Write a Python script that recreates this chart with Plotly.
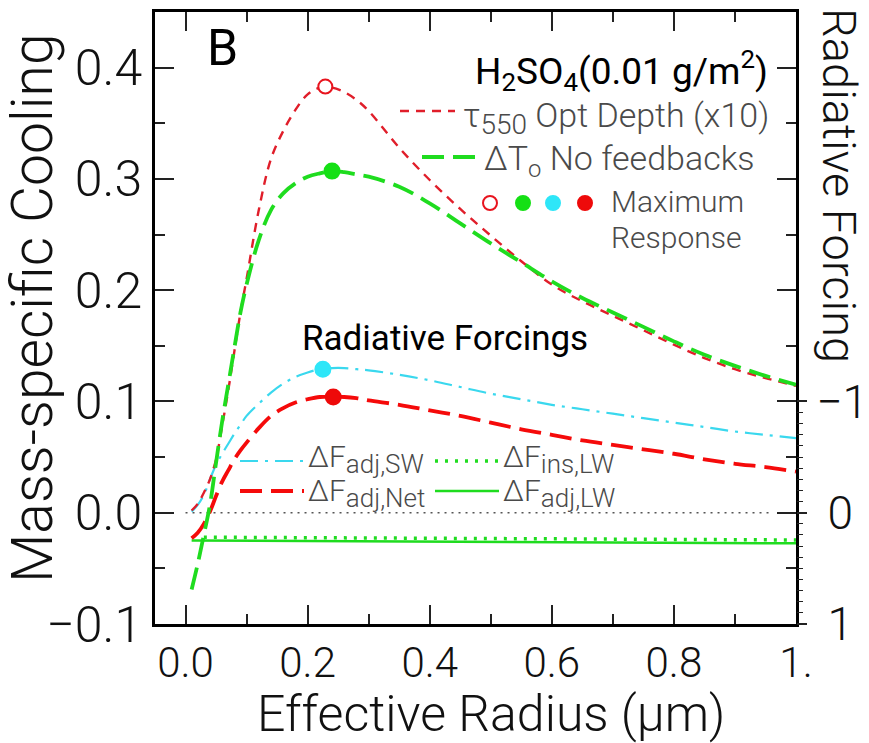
import plotly.graph_objects as go

# ---------------- data ----------------
radius = [0.01, 0.02, 0.03, 0.04, 0.05, 0.06, 0.07, 0.08, 0.09, 0.10, 0.12, 0.14,
          0.16, 0.18, 0.20, 0.22, 0.24, 0.26, 0.28, 0.30, 0.35, 0.40, 0.45, 0.50,
          0.55, 0.60, 0.65, 0.70, 0.75, 0.80, 0.85, 0.90, 0.95, 1.00]
tau550_x10 = [0.002, 0.008, 0.018, 0.030, 0.048, 0.078, 0.110, 0.145, 0.180, 0.210, 0.272, 0.318,
              0.343, 0.362, 0.376, 0.382, 0.382, 0.378, 0.371, 0.361, 0.328, 0.299, 0.273, 0.249,
              0.226, 0.205, 0.190, 0.177, 0.164, 0.151, 0.139, 0.129, 0.121, 0.114]
dT_nofeed = [-0.069, -0.046, -0.020, 0.007, 0.045, 0.082, 0.115, 0.148, 0.180, 0.205, 0.245, 0.272,
             0.287, 0.296, 0.302, 0.305, 0.307, 0.306, 0.304, 0.302, 0.293, 0.278, 0.260, 0.242,
             0.225, 0.208, 0.193, 0.180, 0.167, 0.154, 0.142, 0.132, 0.123, 0.115]
dF_adj_sw = [0.001, 0.007, 0.016, 0.030, 0.043, 0.053, 0.062, 0.071, 0.079, 0.087, 0.098, 0.108,
             0.116, 0.122, 0.126, 0.129, 0.130, 0.130, 0.129, 0.128, 0.124, 0.119, 0.113, 0.107,
             0.102, 0.097, 0.093, 0.089, 0.085, 0.081, 0.077, 0.073, 0.070, 0.067]
dF_adj_net = [-0.023, -0.018, -0.010, 0.001, 0.015, 0.028, 0.038, 0.048, 0.056, 0.063, 0.076, 0.087,
              0.094, 0.099, 0.102, 0.104, 0.104, 0.104, 0.103, 0.101, 0.097, 0.092, 0.087, 0.081,
              0.075, 0.070, 0.065, 0.061, 0.057, 0.053, 0.048, 0.044, 0.041, 0.037]
lw_adj_r = [0.01, 0.20, 0.40, 0.60, 0.80, 1.00]
dF_adj_lw = [-0.0250, -0.0255, -0.0260, -0.0265, -0.0270, -0.0275]
lw_ins_r = [0.03, 0.20, 0.40, 0.60, 0.80, 1.00]
dF_ins_lw = [-0.0220, -0.0225, -0.0230, -0.0235, -0.0240, -0.0245]
zero_r = [0.0, 0.96]
zero_v = [0.0, 0.0]
peak_r = [0.229, 0.240, 0.225, 0.242]
peak_v = [0.383, 0.307, 0.129, 0.104]

x_tickvals = [0.0, 0.2, 0.4, 0.6, 0.8, 1.0]
x_ticktext = ["0.0", "0.2", "0.4", "0.6", "0.8", "1."]
y_tickvals = [-0.1, 0.0, 0.1, 0.2, 0.3, 0.4]
y_ticktext = ["\u22120.1", "0.0", "0.1", "0.2", "0.3", "0.4"]
rf_tickvals = [-1, 0, 1]
rf_ticktext = ["\u22121", "\u00a00", "\u00a01"]
rf_minor = [-0.9, -0.8, -0.7, -0.6, -0.5, -0.4, -0.3, -0.2, -0.1,
            0.1, 0.2, 0.3, 0.4, 0.5, 0.6, 0.7, 0.8, 0.9]

# ---------------- styling ----------------
W, H = 869, 743
L, R, T, B = 155, 796, 12, 624
FONT = "Roboto"
RED_T = "#e01e2a"
RED = "#f50a0a"
GREEN = "#1fdc1f"
CYAN = "#3ad8ee"
GRAY = "#4a4a4a"
MK_RED_O = "#e8141e"
MK_GREEN = "#15e015"
MK_CYAN = "#2ee6f8"
MK_RED = "#ee0a0a"


def P(px, py):
    return (px - L) / (R - L), (B - py) / (B - T)


fig = go.Figure()

fig.add_trace(go.Scatter(x=zero_r, y=zero_v, mode="lines",
                         line=dict(color="#555555", width=1.3, dash="2px,5px")))
fig.add_trace(go.Scatter(x=lw_adj_r, y=dF_adj_lw, mode="lines",
                         line=dict(color=GREEN, width=2.5)))
fig.add_trace(go.Scatter(x=lw_ins_r, y=dF_ins_lw, mode="lines",
                         line=dict(color=GREEN, width=3.5, dash="3px,7px")))
fig.add_trace(go.Scatter(x=radius, y=dF_adj_sw, mode="lines", line_shape="spline",
                         line=dict(color=CYAN, width=2.2, dash="18px,7px,3px,7px")))
fig.add_trace(go.Scatter(x=radius, y=dF_adj_net, mode="lines", line_shape="spline",
                         line=dict(color=RED, width=3.8, dash="22px,9px")))
fig.add_trace(go.Scatter(x=radius, y=tau550_x10, mode="lines", line_shape="spline",
                         line=dict(color=RED_T, width=2.4, dash="9px,7px")))
fig.add_trace(go.Scatter(x=radius, y=dT_nofeed, mode="lines", line_shape="spline",
                         line=dict(color=GREEN, width=3.8, dash="22px,9px")))
fig.add_trace(go.Scatter(x=peak_r, y=peak_v, mode="markers",
                         marker=dict(size=[14, 15, 15, 15], opacity=1,
                                     symbol="circle",
                                     color=["white", MK_GREEN, MK_CYAN, MK_RED],
                                     line=dict(width=2, color=[MK_RED_O, MK_GREEN, MK_CYAN, MK_RED]))))
# anchor trace for the radiative-forcing axis (zero forcing)
fig.add_trace(go.Scatter(x=zero_r, y=zero_v, yaxis="y2", mode="lines",
                         line=dict(color="rgba(0,0,0,0)", width=0), hoverinfo="skip"))

tick_common = dict(tickwidth=1.5, tickcolor="#222")

fig.update_layout(
    width=W, height=H, showlegend=False,
    margin=dict(l=L, r=W - R, t=T, b=H - B, pad=0, autoexpand=False),
    paper_bgcolor="white", plot_bgcolor="white",
    font=dict(family=FONT, color="#111111"),
    xaxis=dict(range=[-0.05, 1.0], tickvals=x_tickvals, ticktext=x_ticktext, automargin=False,
               ticks="inside", ticklen=19, **tick_common,
               minor=dict(dtick=0.1, tick0=0, ticks="inside", ticklen=10, **tick_common),
               showline=True, linecolor="black", linewidth=2.5, mirror="ticks",
               showgrid=False, zeroline=False,
               tickfont=dict(family=FONT, size=42, color="#111", weight=300)),
    yaxis=dict(range=[-0.1, 0.45], tickvals=y_tickvals, ticktext=y_ticktext, automargin=False,
               ticks="inside", ticklen=19, **tick_common,
               minor=dict(dtick=0.05, tick0=0, ticks="inside", ticklen=10, **tick_common),
               showline=True, linecolor="black", linewidth=2.5, mirror="ticks",
               showgrid=False, zeroline=False,
               tickfont=dict(family=FONT, size=50, color="#111", weight=300)),
    yaxis2=dict(overlaying="y", side="right", range=[1.0, -4.5], automargin=False,
                tickvals=rf_tickvals, ticktext=rf_ticktext,
                ticks="outside", ticklen=10, **tick_common,
                minor=dict(tickmode="array", tickvals=rf_minor, ticks="outside", ticklen=6,
                           tickwidth=1.2, tickcolor="#222"),
                showline=False, showgrid=False, zeroline=False,
                tickfont=dict(family=FONT, size=46, color="#111", weight=300)),
)

ann = []


def text(px, py, s, size, color="#111111", xanchor="left", yanchor="middle", angle=0, weight=300):
    x, y = P(px, py)
    ann.append(dict(x=x, y=y, xref="paper", yref="paper", text=s, showarrow=False,
                    xanchor=xanchor, yanchor=yanchor, textangle=angle, borderpad=0,
                    font=dict(family=FONT, size=size, color=color, weight=weight)))


def sub(s, px):
    return "<sub><span style='font-size:%dpx'>%s</span></sub>" % (px, s)


text(222, 48, "B", 50, "#000", xanchor="center", weight=400)
text(474, 70, "H<sub>2</sub>SO<sub>4</sub>(0.01 g/m<sup>2</sup>)", 37, "#000", weight=400)
text(462, 118, "\u03c4" + sub("550", 28) + " Opt Depth (x10)", 34, GRAY)
text(483, 160, "\u0394T<sub>o</sub> No feedbacks", 34, GRAY)
text(610, 201, "Maximum", 30, GRAY)
text(610, 237, "Response", 30, GRAY)
text(445, 338, "Radiative Forcings", 35, "#000", xanchor="center", weight=400)
text(307, 459, "\u0394F" + sub("adj,SW", 26), 30, GRAY)
text(307, 493, "\u0394F" + sub("adj,Net", 26), 30, GRAY)
text(502, 459, "\u0394F" + sub("ins,LW", 26), 30, GRAY)
text(502, 493, "\u0394F" + sub("adj,LW", 26), 30, GRAY)
text(840, 185, "Radiative Forcing", 47, "#111", xanchor="center", angle=90)
text(33, 308, "Mass-specific Cooling", 57, "#111", xanchor="center", angle=-90)
text(491, 714, "Effective Radius (\u03bcm)", 50, "#111", xanchor="center")

shapes = []


def seg(px0, px1, py, color, width, dash):
    x0, y = P(px0, py)
    x1, _ = P(px1, py)
    shapes.append(dict(type="line", xref="paper", yref="paper", x0=x0, x1=x1, y0=y, y1=y,
                       line=dict(color=color, width=width, dash=dash)))


def dot(px, py, color, filled):
    x, y = P(px, py)
    shapes.append(dict(type="circle", xref="paper", yref="paper", xsizemode="pixel", ysizemode="pixel",
                       xanchor=x, yanchor=y, x0=-7, x1=7, y0=-7, y1=7,
                       fillcolor=color if filled else "white",
                       line=dict(color=color, width=2)))


seg(400, 455, 111, RED_T, 2.4, "9px,7px")
seg(422, 482, 157, GREEN, 3.8, "22px,9px")
dot(490, 203, MK_RED_O, False)
dot(523, 203, MK_GREEN, True)
dot(553, 203, MK_CYAN, True)
dot(585, 203, MK_RED, True)
seg(240, 304, 461, CYAN, 2.2, "18px,7px,3px,7px")
seg(240, 304, 491, RED, 3.8, "22px,9px")
seg(435, 499, 461, GREEN, 3.5, "3px,7px")
seg(435, 499, 491, GREEN, 2.5, "solid")

fig.update_layout(annotations=ann, shapes=shapes)
fig.write_html("out.html")
